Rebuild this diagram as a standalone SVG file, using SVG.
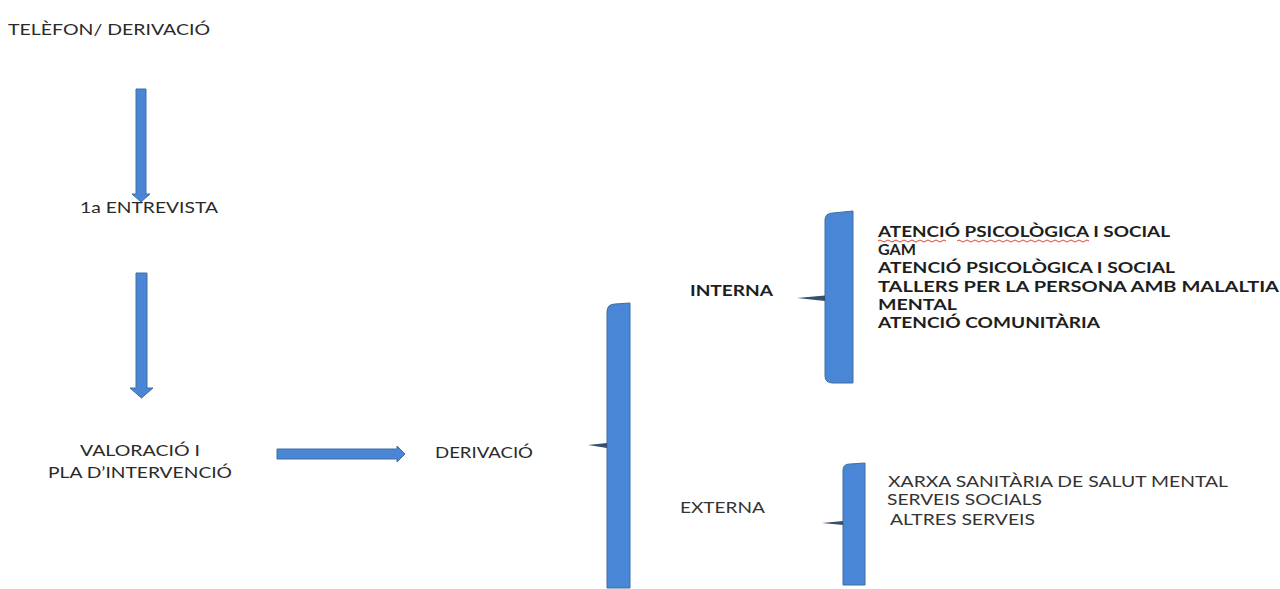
<svg xmlns="http://www.w3.org/2000/svg" width="1280" height="589" viewBox="0 0 1280 589">
<style>
.t{font-family:Lato,"Liberation Sans",sans-serif;font-size:16px;fill:#2a2a2a}
.b{font-family:Lato,"Liberation Sans",sans-serif;font-size:16px;font-weight:bold;fill:#1e1e1e}
.n{font-family:Lato,"Liberation Sans",sans-serif;font-size:15px;fill:#333}
.arr{fill:#4a86d6;stroke:#3e6e9e;stroke-width:1}
.br{fill:#4a86d6;stroke:#3e6e9e;stroke-width:1}
.tick{fill:#34506e}
.sq{fill:none;stroke:#d9463a;stroke-width:1}
</style>
<rect width="1280" height="589" fill="#fff"/>
<g id="connectors">
  <path class="arr" d="M136,89 H146 V194 H150 L141,202 L132,194 H136 Z"/>
  <path class="arr" d="M136,273 H147 V388 H153 L141.5,398 L130,388 H136 Z"/>
  <path class="arr" d="M277,449 H397 V446 L405,454 L397,462 V459 H277 Z"/>
</g>
<g id="telefon">
  <text class="t" x="8" y="35" textLength="202" lengthAdjust="spacingAndGlyphs">TELÈFON/ DERIVACIÓ</text>
</g>
<g id="entrevista">
  <text class="t" x="80" y="213" textLength="138" lengthAdjust="spacingAndGlyphs">1a ENTREVISTA</text>
</g>
<g id="valoracio">
  <text class="t" x="80" y="456" textLength="120" lengthAdjust="spacingAndGlyphs">VALORACIÓ I</text>
  <text class="t" x="48" y="478" textLength="184" lengthAdjust="spacingAndGlyphs">PLA D’INTERVENCIÓ</text>
</g>
<g id="derivacio">
  <text class="t" x="435" y="458" textLength="98" lengthAdjust="spacingAndGlyphs">DERIVACIÓ</text>
</g>
<g id="brace-main">
  <path class="br" d="M607,312 Q607,304 615,304 L630,303 V588 H607 Z"/>
  <path class="tick" d="M588,445 L607,443 L607,448 Z"/>
</g>
<g id="interna">
  <text class="b" x="690" y="296" textLength="83" lengthAdjust="spacingAndGlyphs">INTERNA</text>
</g>
<g id="brace-interna">
  <path class="br" d="M825,220 Q825,213 833,213 L853,211 V383 H833 Q825,383 825,376 Z"/>
  <path class="tick" d="M797,298 L825,295.5 L825,301 Z"/>
</g>
<g id="interna-list">
  <text class="b" x="878" y="237" textLength="292" lengthAdjust="spacingAndGlyphs">ATENCIÓ PSICOLÒGICA I SOCIAL</text>
  <path class="sq" d="M878,241 q2,-2 4,0 t4,0 t4,0 t4,0 t4,0 t4,0 t4,0 t4,0 t4,0 t4,0 t4,0 t4,0 t4,0 t4,0 t4,0 t4,0 t4,0"/>
  <path class="sq" d="M957,241 q2,-2 4,0 t4,0 t4,0 t4,0 t4,0 t4,0 t4,0 t4,0 t4,0 t4,0 t4,0 t4,0 t4,0 t4,0 t4,0 t4,0 t4,0 t4,0 t4,0 t4,0 t4,0 t4,0 t4,0 t4,0 t4,0 t4,0 t4,0 t4,0 t4,0 t4,0 t4,0 t4,0 t4,0"/>
  <text class="b" x="878" y="255" textLength="38" lengthAdjust="spacingAndGlyphs">GAM</text>
  <text class="b" x="878" y="273" textLength="297" lengthAdjust="spacingAndGlyphs">ATENCIÓ PSICOLÒGICA I SOCIAL</text>
  <text class="b" x="878" y="292" textLength="401" lengthAdjust="spacingAndGlyphs">TALLERS PER LA PERSONA AMB MALALTIA</text>
  <text class="b" x="878" y="310" textLength="79" lengthAdjust="spacingAndGlyphs">MENTAL</text>
  <text class="b" x="878" y="328" textLength="222" lengthAdjust="spacingAndGlyphs">ATENCIÓ COMUNITÀRIA</text>
</g>
<g id="externa">
  <text class="n" x="680" y="513" textLength="85" lengthAdjust="spacingAndGlyphs">EXTERNA</text>
</g>
<g id="brace-externa">
  <path class="br" d="M843,470 Q843,464 850,464 L865,463 V585 H843 Z"/>
  <path class="tick" d="M822,523 L843,521 L843,525 Z"/>
</g>
<g id="externa-list">
  <text class="n" x="888" y="487" textLength="340" lengthAdjust="spacingAndGlyphs">XARXA SANITÀRIA DE SALUT MENTAL</text>
  <text class="n" x="887" y="505" textLength="155" lengthAdjust="spacingAndGlyphs">SERVEIS SOCIALS</text>
  <text class="n" x="890" y="525" textLength="145" lengthAdjust="spacingAndGlyphs">ALTRES SERVEIS</text>
</g>
</svg>
